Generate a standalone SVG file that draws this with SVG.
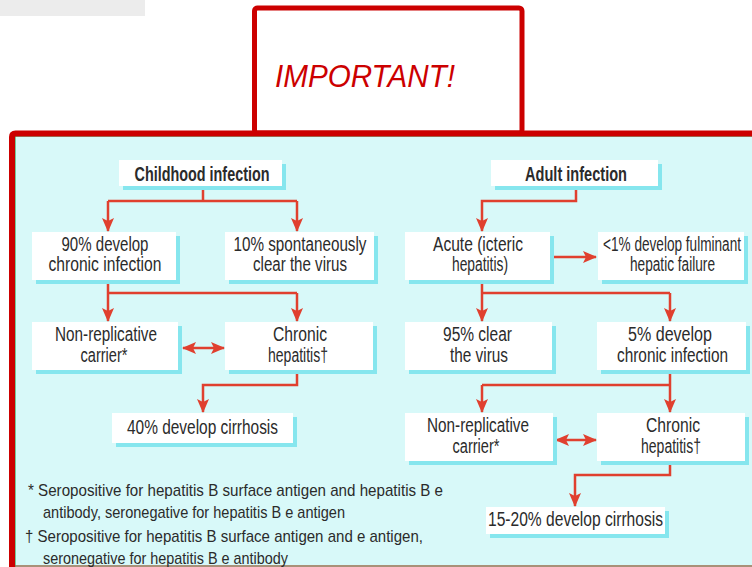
<svg xmlns="http://www.w3.org/2000/svg" width="752" height="567" viewBox="0 0 752 567">
<style>
.bx{fill:#ffffff}
.sh{fill:#86e6ee}
.t{font-family:"Liberation Sans",Arial,sans-serif;font-size:19.5px;fill:#2b2b2b;text-anchor:middle}
.tb{font-weight:bold}
.fn{font-family:"Liberation Sans",Arial,sans-serif;font-size:17px;fill:#2b2b2b}
.c{fill:none;stroke:#e0402f;stroke-width:2.5}
</style>
<defs>
<marker id="ah" viewBox="0 0 14 12" refX="13" refY="6" markerWidth="14" markerHeight="12" markerUnits="userSpaceOnUse" orient="auto-start-reverse">
<path d="M0,0 L14,6 L0,12 L3,6 Z" fill="#e0402f"/>
</marker>
</defs>
<rect x="0" y="0" width="145" height="16" fill="#ececec"/>
<rect x="254.5" y="8" width="267.5" height="125" rx="3" fill="#ffffff" stroke="#cc0000" stroke-width="5"/>
<text x="275" y="87" font-family="'Liberation Sans',sans-serif" font-style="italic" font-size="32" fill="#cc0000" textLength="180" lengthAdjust="spacingAndGlyphs">IMPORTANT!</text>
<rect x="15" y="136" width="745" height="432" fill="#d8f9f9" stroke="#56b97a" stroke-width="1.5"/>
<path d="M12,570 V137 Q12,133.5 15.5,133.5 H760" fill="none" stroke="#cc0000" stroke-width="6"/>
<line x1="15" y1="566" x2="752" y2="566" stroke="#9a6e4e" stroke-width="1.5"/>
<g id="connectors">
<path class="c" d="M203,186 V201 M108,201 H297"/>
<path class="c" d="M108,201 V231" marker-end="url(#ah)"/>
<path class="c" d="M297,201 V231" marker-end="url(#ah)"/>
<path class="c" d="M576,186 V201 H482 V231" marker-end="url(#ah)"/>
<path class="c" d="M108,280 V293 M108,293 H297"/>
<path class="c" d="M108,293 V321" marker-end="url(#ah)"/>
<path class="c" d="M297,293 V321" marker-end="url(#ah)"/>
<path class="c" d="M553,257 H596" marker-end="url(#ah)"/>
<path class="c" d="M482,280 V293 M482,293 H670"/>
<path class="c" d="M482,293 V321" marker-end="url(#ah)"/>
<path class="c" d="M670,293 V321" marker-end="url(#ah)"/>
<path class="c" d="M183,348 H224" marker-start="url(#ah)" marker-end="url(#ah)"/>
<path class="c" d="M297,370 V385 H203 V412" marker-end="url(#ah)"/>
<path class="c" d="M670,370 V385 M482,385 H670"/>
<path class="c" d="M482,385 V412" marker-end="url(#ah)"/>
<path class="c" d="M670,385 V412" marker-end="url(#ah)"/>
<path class="c" d="M556,440 H596" marker-start="url(#ah)" marker-end="url(#ah)"/>
<path class="c" d="M670,461 V475 H575 V506" marker-end="url(#ah)"/>
</g>
<g id="childhood">
<rect class="sh" x="123" y="164" width="163" height="26"/><rect class="bx" x="119" y="160" width="163" height="26"/>
<text class="t tb" x="202" y="181" textLength="135" lengthAdjust="spacingAndGlyphs">Childhood infection</text>
</g>
<g id="adult">
<rect class="sh" x="495" y="164" width="167" height="26"/><rect class="bx" x="491" y="160" width="167" height="26"/>
<text class="t tb" x="576" y="181" textLength="102" lengthAdjust="spacingAndGlyphs">Adult infection</text>
</g>
<g id="child-chronic">
<rect class="sh" x="36" y="236" width="144" height="48"/><rect class="bx" x="32" y="232" width="144" height="48"/>
<text class="t" x="105" y="251" textLength="87" lengthAdjust="spacingAndGlyphs">90% develop</text><text class="t" x="105" y="271" textLength="113" lengthAdjust="spacingAndGlyphs">chronic infection</text>
</g>
<g id="child-clear">
<rect class="sh" x="229" y="236" width="149" height="48"/><rect class="bx" x="225" y="232" width="149" height="48"/>
<text class="t" x="300" y="251" textLength="133" lengthAdjust="spacingAndGlyphs">10% spontaneously</text><text class="t" x="300" y="271" textLength="94" lengthAdjust="spacingAndGlyphs">clear the virus</text>
</g>
<g id="acute">
<rect class="sh" x="409" y="236" width="145" height="48"/><rect class="bx" x="405" y="232" width="145" height="48"/>
<text class="t" x="478" y="251" textLength="90" lengthAdjust="spacingAndGlyphs">Acute (icteric</text><text class="t" x="480" y="271" textLength="56" lengthAdjust="spacingAndGlyphs">hepatitis)</text>
</g>
<g id="fulminant">
<rect class="sh" x="602" y="236" width="146" height="48"/><rect class="bx" x="598" y="232" width="146" height="48"/>
<text class="t" x="672" y="251" textLength="138" lengthAdjust="spacingAndGlyphs">&lt;1% develop fulminant</text><text class="t" x="672.5" y="271" textLength="85" lengthAdjust="spacingAndGlyphs">hepatic failure</text>
</g>
<g id="child-carrier">
<rect class="sh" x="36" y="326" width="146" height="48"/><rect class="bx" x="32" y="322" width="146" height="48"/>
<text class="t" x="106" y="341" textLength="102" lengthAdjust="spacingAndGlyphs">Non-replicative</text><text class="t" x="104" y="362" textLength="47" lengthAdjust="spacingAndGlyphs">carrier*</text>
</g>
<g id="child-hepatitis">
<rect class="sh" x="229" y="326" width="148" height="48"/><rect class="bx" x="225" y="322" width="148" height="48"/>
<text class="t" x="300" y="341" textLength="54" lengthAdjust="spacingAndGlyphs">Chronic</text><text class="t" x="298" y="362" textLength="60" lengthAdjust="spacingAndGlyphs">hepatitis†</text>
</g>
<g id="child-cirrhosis">
<rect class="sh" x="116" y="417" width="181" height="30"/><rect class="bx" x="112" y="413" width="181" height="30"/>
<text class="t" x="202.5" y="434" textLength="151" lengthAdjust="spacingAndGlyphs">40% develop cirrhosis</text>
</g>
<g id="adult-clear">
<rect class="sh" x="409" y="326" width="147" height="48"/><rect class="bx" x="405" y="322" width="147" height="48"/>
<text class="t" x="477.5" y="341" textLength="69" lengthAdjust="spacingAndGlyphs">95% clear</text><text class="t" x="479" y="362" textLength="58" lengthAdjust="spacingAndGlyphs">the virus</text>
</g>
<g id="adult-chronic">
<rect class="sh" x="601" y="326" width="149" height="48"/><rect class="bx" x="597" y="322" width="149" height="48"/>
<text class="t" x="670" y="341" textLength="84" lengthAdjust="spacingAndGlyphs">5% develop</text><text class="t" x="672.5" y="362" textLength="111" lengthAdjust="spacingAndGlyphs">chronic infection</text>
</g>
<g id="adult-carrier">
<rect class="sh" x="409" y="417" width="148" height="48"/><rect class="bx" x="405" y="413" width="148" height="48"/>
<text class="t" x="478" y="432" textLength="102" lengthAdjust="spacingAndGlyphs">Non-replicative</text><text class="t" x="476" y="453" textLength="47" lengthAdjust="spacingAndGlyphs">carrier*</text>
</g>
<g id="adult-hepatitis">
<rect class="sh" x="601" y="417" width="148" height="48"/><rect class="bx" x="597" y="413" width="148" height="48"/>
<text class="t" x="673" y="432" textLength="54" lengthAdjust="spacingAndGlyphs">Chronic</text><text class="t" x="671" y="453" textLength="60" lengthAdjust="spacingAndGlyphs">hepatitis†</text>
</g>
<g id="adult-cirrhosis">
<rect class="sh" x="490" y="511" width="179" height="27"/><rect class="bx" x="486" y="507" width="179" height="27"/>
<text class="t" x="575.5" y="526" textLength="175" lengthAdjust="spacingAndGlyphs">15-20% develop cirrhosis</text>
</g>
<g id="footnotes">
<text class="fn" x="28" y="496" textLength="415" lengthAdjust="spacingAndGlyphs">* Seropositive for hepatitis B surface antigen and hepatitis B e</text>
<text class="fn" x="43" y="518" textLength="302" lengthAdjust="spacingAndGlyphs">antibody, seronegative for hepatitis B e antigen</text>
<text class="fn" x="25" y="542" textLength="398" lengthAdjust="spacingAndGlyphs">† Seropositive for hepatitis B surface antigen and e antigen,</text>
<text class="fn" x="43" y="564" textLength="245" lengthAdjust="spacingAndGlyphs">seronegative for hepatitis B e antibody</text>
</g>
</svg>
